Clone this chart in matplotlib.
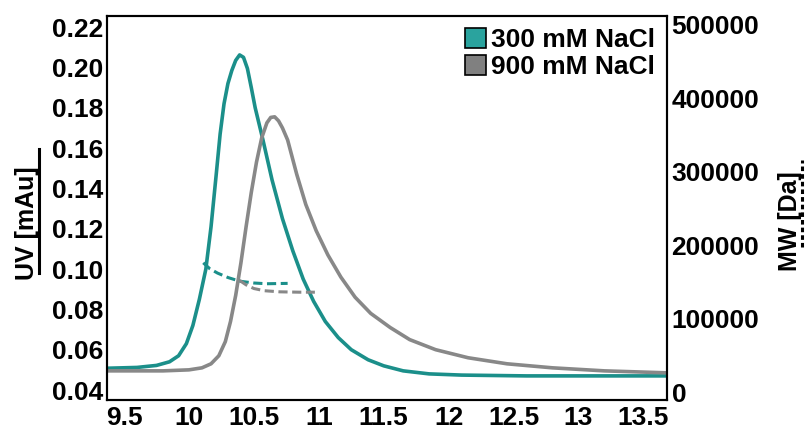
import numpy as np
import matplotlib
matplotlib.use("Agg")
import matplotlib.pyplot as plt
from matplotlib.patches import Patch
from matplotlib.lines import Line2D

plt.rcParams['font.family'] = ['Liberation Sans', 'DejaVu Sans']
plt.rcParams['font.weight'] = 'bold'

teal = '#1b8f8a'
teal_patch = '#2aa39e'
grey = '#888888'

# UV traces (elution volume, absorbance)
t300 = [9.37, 9.60, 9.75, 9.85, 9.92, 9.98, 10.03, 10.08, 10.13, 10.17, 10.21, 10.24,
        10.27, 10.30, 10.33, 10.36, 10.39, 10.42, 10.45, 10.48, 10.51, 10.57, 10.64,
        10.72, 10.80, 10.88, 10.96, 11.05, 11.15, 11.25, 11.38, 11.50, 11.65, 11.85,
        12.10, 12.60, 13.10, 13.69]
uv300 = [0.0508, 0.0512, 0.0522, 0.0540, 0.0570, 0.0630, 0.0720, 0.0850, 0.1000, 0.1210,
         0.1470, 0.1670, 0.1820, 0.1920, 0.1985, 0.2035, 0.2062, 0.2050, 0.1995, 0.1900,
         0.1800, 0.1640, 0.1442, 0.1250, 0.1090, 0.0950, 0.0840, 0.0740, 0.0660, 0.0600,
         0.0550, 0.0520, 0.0495, 0.0480, 0.0474, 0.0470, 0.0470, 0.0470]

t900 = [9.37, 9.80, 10.00, 10.10, 10.17, 10.23, 10.28, 10.32, 10.36, 10.40, 10.44, 10.48,
        10.52, 10.56, 10.60, 10.63, 10.66, 10.69, 10.72, 10.76, 10.83, 10.90, 10.98,
        11.07, 11.17, 11.28, 11.40, 11.55, 11.70, 11.90, 12.15, 12.45, 12.80, 13.20, 13.69]
uv900 = [0.0495, 0.0495, 0.0500, 0.0510, 0.0530, 0.0570, 0.0640, 0.0740, 0.0870, 0.1030,
         0.1210, 0.1380, 0.1530, 0.1650, 0.1725, 0.1752, 0.1755, 0.1735, 0.1700, 0.1640,
         0.1470, 0.1320, 0.1190, 0.1070, 0.0960, 0.0860, 0.0780, 0.0710, 0.0650, 0.0600,
         0.0560, 0.0530, 0.0510, 0.0495, 0.0485]

# molar mass across the peaks
m300_t = [10.11, 10.16, 10.22, 10.30, 10.39, 10.50, 10.60, 10.76]
mw300 = [176000, 168000, 162000, 156000, 151000, 148500, 147500, 148000]
m900_t = [10.39, 10.44, 10.50, 10.58, 10.70, 10.85, 10.97]
mw900 = [152000, 146000, 141000, 138000, 136500, 136000, 136000]

xticks = [9.5, 10, 10.5, 11, 11.5, 12, 12.5, 13, 13.5]
xticklabels = ['9.5', '10', '10.5', '11', '11.5', '12', '12.5', '13', '13.5']
yticks = [0.04, 0.06, 0.08, 0.10, 0.12, 0.14, 0.16, 0.18, 0.20, 0.22]
y2ticks = [0, 100000, 200000, 300000, 400000, 500000]

fig = plt.figure(figsize=(8.05, 4.33), dpi=100)
ax = fig.add_axes([0.133, 0.076, 0.696, 0.887])
ax2 = ax.twinx()

ax.plot(t300, uv300, color=teal, lw=2.6)
ax.plot(t900, uv900, color=grey, lw=2.6)
ax2.plot(m300_t, mw300, color=teal, lw=2.2, ls=(0, (3, 1.5)))
ax2.plot(m900_t, mw900, color=grey, lw=2.2, ls=(0, (3, 1.5)))

ax.set_xlim(9.369, 13.685)
ax.set_ylim(0.035, 0.2255)
ax2.set_ylim(-10900, 512000)

ax.set_xticks(xticks)
ax.set_xticklabels(xticklabels)
ax.set_yticks(yticks)
ax.set_yticklabels(['%.2f' % v for v in yticks])
ax2.set_yticks(y2ticks)
ax2.set_yticklabels([str(v) for v in y2ticks])

ax.tick_params(axis='both', length=0, labelsize=19, pad=3)
ax.tick_params(axis='x', pad=4)
ax2.tick_params(axis='y', length=0, labelsize=19, pad=3)
for a in (ax, ax2):
    for s in a.spines.values():
        s.set_linewidth(1.5)

fig.text(0.033, 0.485, 'UV [mAu]', rotation=90, fontsize=18, fontweight='bold',
         ha='center', va='center')
fig.add_artist(Line2D([0.049, 0.049], [0.37, 0.655], color='black', lw=2.2,
                      transform=fig.transFigure))
fig.text(0.981, 0.49, 'MW [Da]', rotation=90, fontsize=18, fontweight='bold',
         ha='center', va='center')
fig.add_artist(Line2D([0.996, 0.996], [0.43, 0.63], color='black', lw=2.2,
                      ls=(0, (1.5, 1)), transform=fig.transFigure))

handles = [Patch(facecolor=teal_patch, edgecolor='black', lw=1.2),
           Patch(facecolor='#808080', edgecolor='black', lw=1.2)]
ax.legend(handles, ['300 mM NaCl', '900 mM NaCl'], loc='upper right', frameon=False,
          prop={'size': 19, 'weight': 'bold'}, handlelength=0.8, handleheight=0.8,
          handletextpad=0.2, labelspacing=0.1, borderaxespad=0.05)

fig.savefig('out.png', dpi=100)
